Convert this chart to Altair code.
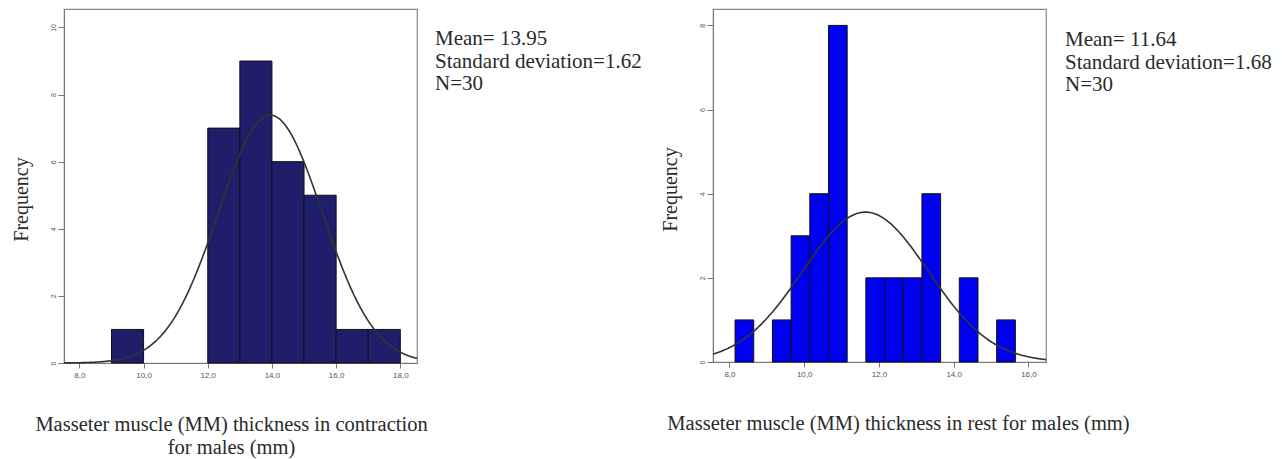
import altair as alt
import pandas as pd
import numpy as np

# ---- data ----
left_bin_start = [9.0, 12.0, 13.0, 14.0, 15.0, 16.0, 17.0]
left_counts = [1, 7, 9, 6, 5, 1, 1]
left_bin_width = 1.0
left_mean, left_sd, left_n = 13.95, 1.62, 30

right_bin_start = [8.15, 9.15, 9.65, 10.15, 10.65, 11.65, 12.15, 12.65, 13.15, 14.15, 15.15]
right_counts = [1, 1, 3, 4, 8, 2, 2, 2, 4, 2, 1]
right_bin_width = 0.5
right_mean, right_sd, right_n = 11.64, 1.68, 30

left_xdomain = [7.52, 18.52]
left_ydomain = [0, 10.55]
right_xdomain = [7.56, 16.47]
right_ydomain = [0, 8.39]

left_xticks = [8, 10, 12, 14, 16, 18]
left_yticks = [0, 2, 4, 6, 8, 10]
right_xticks = [8, 10, 12, 14, 16]
right_yticks = [0, 2, 4, 6, 8]

left_xtitle = ["Masseter muscle (MM) thickness in contraction", "for males (mm)"]
right_xtitle = "Masseter muscle (MM) thickness in rest for males (mm)"
left_note = ["Mean= 13.95", "Standard deviation=1.62", "N=30"]
right_note = ["Mean= 11.64", "Standard deviation=1.68", "N=30"]

SERIF = "Liberation Serif"
LABEL_EXPR = "replace(format(datum.value, '.1f'), '.', ',')"


def panel(starts, counts, bw, mean, sd, n, xdom, ydom, xticks, yticks,
          color, xtitle, xtitle_x, ytitle_y, note, note_x, note_y, w, h):
    bars = pd.DataFrame({
        "x0": starts,
        "x1": [s + bw for s in starts],
        "count": counts,
    })
    xs = np.linspace(xdom[0], xdom[1], 300)
    curve = pd.DataFrame({
        "x": xs,
        "y": n * bw / (sd * np.sqrt(2 * np.pi)) * np.exp(-0.5 * ((xs - mean) / sd) ** 2),
    })
    xscale = alt.Scale(domain=xdom, nice=False, zero=False)
    yscale = alt.Scale(domain=ydom, nice=False)
    xaxis = alt.Axis(
        values=xticks, labelExpr=LABEL_EXPR, title=xtitle, grid=False,
        tickSize=5, labelFontSize=8, labelColor="#555", labelPadding=3,
        domainColor="#777", tickColor="#777",
        titleFont=SERIF, titleFontSize=20.5, titleFontWeight="normal",
        titleColor="#2a2a2a", titleX=xtitle_x, titleY=51, titleAlign="center",
        titleBaseline="top", titleLineHeight=23,
    )
    yaxis = alt.Axis(
        values=yticks, title="Frequency", grid=False, tickSize=6,
        labelFontSize=7, labelColor="#555", labelAngle=-90,
        labelAlign="center", labelBaseline="bottom", labelPadding=2,
        domainColor="#777", tickColor="#777",
        titleFont=SERIF, titleFontSize=20, titleFontWeight="normal",
        titleColor="#2a2a2a", titleX=-43, titleY=ytitle_y, titleAngle=270,
        titleAlign="center", titleBaseline="middle",
    )
    rect = alt.Chart(bars).mark_rect(
        color=color, stroke="#111", strokeWidth=1
    ).encode(
        x=alt.X("x0:Q", scale=xscale, axis=xaxis),
        x2="x1:Q",
        y=alt.Y("count:Q", scale=yscale, axis=yaxis),
        y2=alt.datum(0),
    )
    line = alt.Chart(curve).mark_line(color="#333", strokeWidth=1.6).encode(
        x=alt.X("x:Q", scale=xscale),
        y=alt.Y("y:Q", scale=yscale),
    )
    text = alt.Chart(pd.DataFrame({"a": [0]})).mark_text(
        font=SERIF, fontSize=21, align="left", baseline="top",
        lineHeight=22.5, color="#2a2a2a"
    ).encode(
        x=alt.value(note_x), y=alt.value(note_y), text=alt.value(note)
    )
    return alt.layer(rect, line, text).properties(width=w, height=h)


left = panel(left_bin_start, left_counts, left_bin_width, left_mean, left_sd,
             left_n, left_xdomain, left_ydomain, left_xticks, left_yticks,
             "#1f1e6b", left_xtitle, 167, 190, left_note, 371, 19, 353, 354)
right = panel(right_bin_start, right_counts, right_bin_width, right_mean,
              right_sd, right_n, right_xdomain, right_ydomain, right_xticks,
              right_yticks, "#0000f0", right_xtitle, 185, 180, right_note,
              352, 20, 333, 353)

chart = alt.hconcat(left, right, spacing=296, bounds="flush").properties(
    padding={"left": 10, "top": 8, "right": 0, "bottom": 0},
    background="white",
).configure_view(stroke="#888", strokeWidth=1.2)

chart.save("out.html", embed_options={"renderer": "svg", "actions": False})
